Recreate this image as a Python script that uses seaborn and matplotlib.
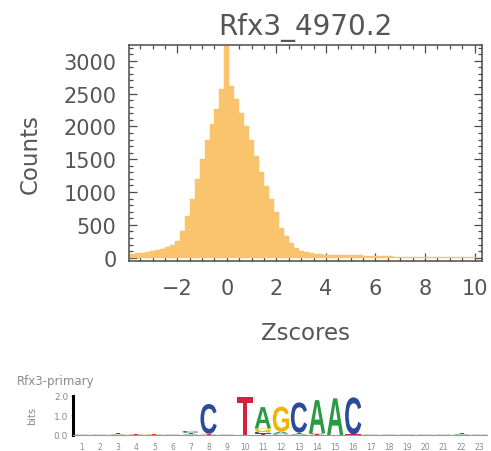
import numpy as np
import matplotlib
matplotlib.use("Agg")
import matplotlib.pyplot as plt
import seaborn as sns
from matplotlib.textpath import TextPath
from matplotlib.patches import PathPatch
from matplotlib.font_manager import FontProperties
from matplotlib.transforms import Affine2D
from matplotlib.ticker import MultipleLocator

# histogram data: bins of width 0.2 starting at -3.9
bin_start = -3.9
bin_width = 0.2
counts = [55, 65, 75, 90, 105, 120, 140, 165, 200, 260,
          400, 640, 900, 1200, 1500, 1800, 2040, 2270, 2570, 3230,
          2610, 2420, 2210, 2010, 1800, 1550, 1300, 1090, 890, 690,
          460, 330, 220, 150, 105, 80, 65, 55, 50, 46,
          44, 42, 40, 38, 36, 35, 34, 32, 30, 28,
          22, 20, 19, 18, 17, 16, 15, 14, 14, 13,
          12, 12, 11, 10, 10, 9, 9, 8, 8, 7]
title = "Rfx3_4970.2"

# logo data: information (bits) per letter and position
logo_positions = list(range(1, 24))
A_bits = [0.01, 0.01, 0.02, 0.01, 0.01, 0.01, 0.03, 0.03, 0.01, 0.00, 1.10, 0.10,
          0.05, 1.70, 1.88, 0.00, 0.01, 0.01, 0.01, 0.01, 0.01, 0.02, 0.01]
C_bits = [0.01, 0.01, 0.01, 0.01, 0.01, 0.01, 0.10, 1.52, 0.01, 0.00, 0.10, 0.05,
          1.55, 0.05, 0.00, 1.90, 0.01, 0.01, 0.01, 0.01, 0.01, 0.02, 0.01]
G_bits = [0.01, 0.01, 0.02, 0.03, 0.02, 0.01, 0.02, 0.02, 0.01, 0.00, 0.15, 1.28,
          0.02, 0.02, 0.00, 0.00, 0.01, 0.01, 0.01, 0.01, 0.01, 0.02, 0.01]
T_bits = [0.01, 0.01, 0.06, 0.01, 0.01, 0.01, 0.06, 0.02, 0.01, 1.97, 0.08, 0.02,
          0.05, 0.02, 0.00, 0.03, 0.01, 0.01, 0.01, 0.01, 0.01, 0.03, 0.01]
logo_title = "Rfx3-primary"
base_colors = {"A": "#2a9a46", "C": "#2b4c9b", "G": "#f2b200", "T": "#d3223d"}

centers = [bin_start + bin_width * (i + 0.5) for i in range(len(counts))]
edges = [bin_start + bin_width * i for i in range(len(counts) + 1)]

sns.set_style("ticks")
plt.rcParams["font.family"] = ["DejaVu Sans"]
grey = "#555555"
frame = "#4a4a4a"

fig = plt.figure(figsize=(4.91, 4.52), dpi=100)
ax = fig.add_axes([0.2627, 0.4204, 0.7190, 0.4778])

sns.histplot(x=centers, weights=counts, bins=edges, color="#f9c46b",
             alpha=1, edgecolor="#f9c46b", linewidth=0.3, ax=ax)

ax.set_xlim(-3.95, 10.3)
ax.set_ylim(-50, 3240)
ax.xaxis.set_major_locator(MultipleLocator(2))
ax.xaxis.set_minor_locator(MultipleLocator(0.5))
ax.yaxis.set_major_locator(MultipleLocator(500))
ax.yaxis.set_minor_locator(MultipleLocator(100))
ax.tick_params(which="both", direction="in", top=True, right=True,
               color=frame, width=0.9)
ax.tick_params(which="major", length=6)
ax.tick_params(which="minor", length=3)
ax.tick_params(axis="x", which="major", pad=12, labelsize=15, labelcolor=grey)
ax.tick_params(axis="y", which="major", pad=9, labelsize=15, labelcolor=grey)
ax.set_xticklabels(["\u22122" if t == -2 else str(int(t)) for t in ax.get_xticks()])
for s in ax.spines.values():
    s.set_color(frame)
    s.set_linewidth(1.1)

ax.set_title(title, fontsize=20, color=grey, pad=8)
ax.set_ylabel("Counts", fontsize=16.5, color=grey, labelpad=16)
ax.set_xlabel("Zscores", fontsize=16.5, color=grey, labelpad=17)

# sequence logo
lax = fig.add_axes([0.1487, 0.0354, 0.8432, 0.0863])
lax.set_xlim(0.5, 23.4)
lax.set_ylim(0, 2)
fp = FontProperties(family="Liberation Sans", weight="bold")


def draw_letter(axis, letter, x, y0, h, color):
    tp = TextPath((0, 0), letter, size=1, prop=fp)
    bb = tp.get_extents()
    tr = (Affine2D().translate(-bb.x0, -bb.y0)
          .scale(0.9 / bb.width, h / bb.height)
          .translate(x - 0.45, y0))
    axis.add_patch(PathPatch(tr.transform_path(tp), facecolor=color,
                             edgecolor="none", transform=axis.transData))


for i, p in enumerate(logo_positions):
    stack = sorted([("A", A_bits[i]), ("C", C_bits[i]), ("G", G_bits[i]),
                    ("T", T_bits[i])], key=lambda t: t[1])
    y0 = 0.0
    for letter, h in stack:
        if h > 0:
            draw_letter(lax, letter, p, y0, h, base_colors[letter])
            y0 += h

lax.set_xticks(logo_positions)
lax.set_xticklabels([str(p) for p in logo_positions])
lax.set_yticks([0, 1, 2])
lax.set_yticklabels(["0.0", "1.0", "2.0"])
lax.tick_params(axis="y", labelsize=6.5, labelcolor="#8a8a8a", length=1.5,
                width=0.5, color="#999999", pad=2)
lax.tick_params(axis="x", labelsize=5.5, labelcolor="#8a8a8a", length=0, pad=5)
for s in ["top", "right"]:
    lax.spines[s].set_visible(False)
lax.spines["left"].set_linewidth(2.2)
lax.spines["left"].set_color("black")
lax.spines["bottom"].set_color("#999999")
lax.spines["bottom"].set_linewidth(0.8)
lax.set_ylabel("bits", fontsize=7, color="#8a8a8a", labelpad=12)
fig.text(0.035, 0.148, logo_title, fontsize=8.5, color="#8a8a8a")

fig.savefig("out.png", dpi=100)
